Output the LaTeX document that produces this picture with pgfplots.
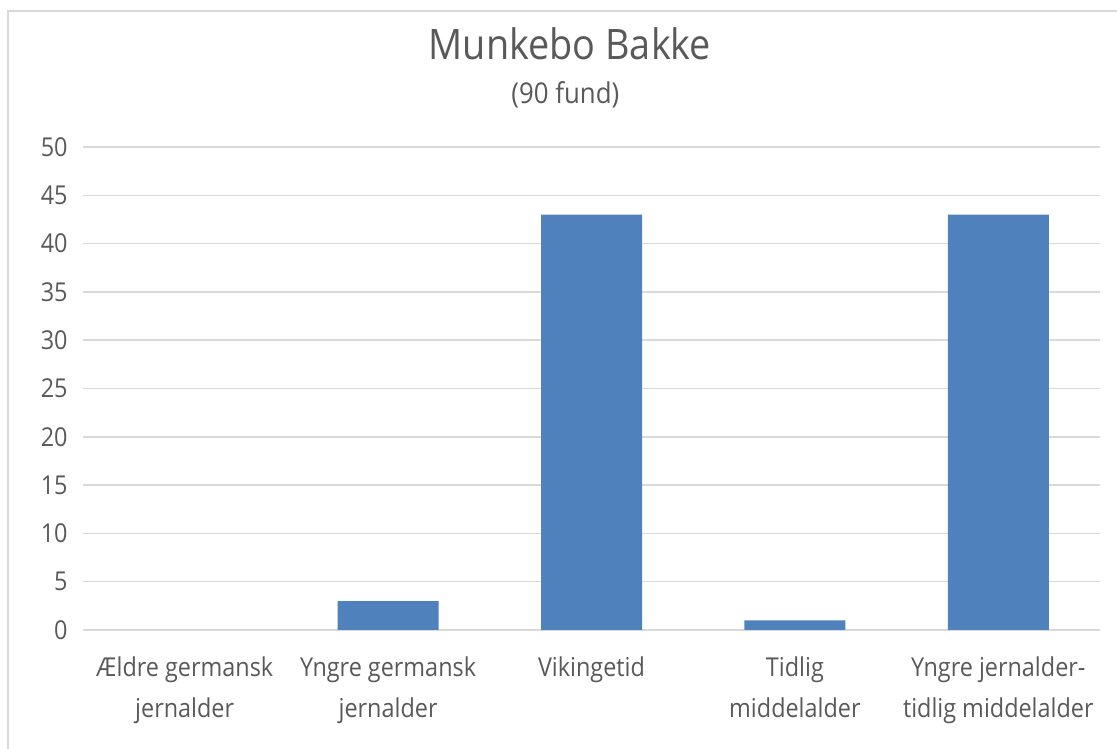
\documentclass[border=0pt]{standalone}
\usepackage{fontspec}
\setmainfont{Open Sans}[FakeStretch=0.9]
\usepackage{pgfplots}
\pgfplotsset{compat=1.18}
\definecolor{barblue}{HTML}{4F81BD}
\definecolor{txt}{HTML}{595959}
\definecolor{gridc}{HTML}{D9D9D9}
\begin{document}
\begin{tikzpicture}
\path[use as bounding box] (0pt,0pt) rectangle (837.75pt,561.75pt);
\draw[gridc, line width=1.2pt] (6pt,-10pt) -- (6pt,553.5pt) -- (850pt,553.5pt);
\node[anchor=base, txt, font=\fontsize{31.5}{36}\selectfont] at (427.5pt,517pt) {Munkebo Bakke};
\node[anchor=base, txt, font=\fontsize{21.5}{26}\selectfont] at (424pt,484pt) {(90 fund)};
\begin{axis}[
  at={(62.25pt,89.25pt)}, anchor=south west,
  scale only axis, width=762.75pt, height=362.25pt,
  xmin=-0.5, xmax=4.5, ymin=0, ymax=50,
  ytick={0,5,...,50},
  xtick={0,1,2,3,4},
  xticklabels={{Ældre germansk\\jernalder},{Yngre germansk\\jernalder},{Vikingetid},{Tidlig\\middelalder},{Yngre jernalder-\\tidlig middelalder}},
  ymajorgrids, grid style={gridc, line width=1.2pt},
  axis line style={draw=none}, major tick style={draw=none},
  /pgf/number format/assume math mode=true,
  yticklabel style={txt, font=\fontsize{19.5}{24}\selectfont, xshift=-8pt},
  xticklabel style={txt, font=\fontsize{19.5}{30.5}\selectfont, align=center, anchor=north, yshift=-12.5pt},
  ybar, bar width=75.75pt,
  clip=false,
]
% value of the first category is 0 (no bar drawn)
\addplot[fill=barblue, draw=none] coordinates {(1,3) (2,43) (3,1) (4,43)};
\end{axis}
\end{tikzpicture}
\end{document}
